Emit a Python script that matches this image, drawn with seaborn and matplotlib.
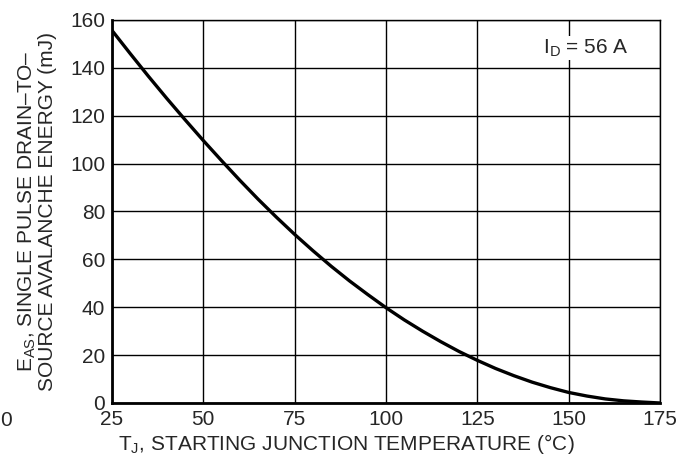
import matplotlib
matplotlib.use("Agg")
import matplotlib.pyplot as plt
import seaborn as sns
import pandas as pd

# starting junction temperature (C) and avalanche energy (mJ)
temp_c = [25, 30, 35, 40, 45, 50, 55, 60, 65, 70, 75, 80, 85, 90, 95, 100,
          105, 110, 115, 120, 125, 130, 135, 140, 145, 150, 155, 160, 165, 170, 175]
energy_mj = [155.6, 145.9, 136.4, 127.2, 118.3, 109.6, 101.2, 93.0, 85.1, 77.6, 70.4,
             63.6, 57.1, 51.0, 45.3, 39.8, 34.7, 30.0, 25.6, 21.5, 17.8, 14.4, 11.4,
             8.7, 6.4, 4.4, 2.9, 1.7, 0.9, 0.4, 0.0]

x_ticks = [25, 50, 75, 100, 125, 150, 175]
y_ticks = [0, 20, 40, 60, 80, 100, 120, 140, 160]

sns.set_style("white")
plt.rcParams['font.family'] = ['Liberation Sans', 'DejaVu Sans']
plt.rcParams['mathtext.fontset'] = 'custom'
plt.rcParams['mathtext.rm'] = 'Liberation Sans'

df = pd.DataFrame({"temp": temp_c, "energy": energy_mj})

fig = plt.figure(figsize=(6.89, 4.73), dpi=100)
ax = fig.add_axes([0.1625, 0.148, 0.7955, 0.81])

sns.lineplot(data=df, x="temp", y="energy", ax=ax, color="black", linewidth=2.4)

ax.set_xlim(25, 175)
ax.set_ylim(0, 160)
ax.set_xticks(x_ticks)
ax.set_yticks(y_ticks)
ax.grid(True, color="black", linewidth=1.0)
for s in ax.spines.values():
    s.set_color("black")
    s.set_linewidth(1.0)
ax.spines["left"].set_linewidth(2)
ax.spines["bottom"].set_linewidth(2)
ax.tick_params(axis="both", labelsize=15, length=0, pad=5)

ax.set_xlabel(r"T$_\mathregular{J}$, STARTING JUNCTION TEMPERATURE (°C)", fontsize=15, labelpad=4)
ax.xaxis.set_label_coords(0.427, -0.075)
ax.set_ylabel("E$_\\mathregular{AS}$, SINGLE PULSE DRAIN\u2013TO\u2013\nSOURCE AVALANCHE ENERGY (mJ)",
              fontsize=15, labelpad=9, linespacing=1.0)

ax.text(154.6, 148.3, r"I$_\mathregular{D}$ = 56 A", fontsize=15, ha="center", va="center",
        bbox=dict(facecolor="white", edgecolor="none", pad=1))

fig.text(0.008, 0.112, "0", fontsize=15, ha="center", va="center")

fig.savefig("out.png", dpi=100)
